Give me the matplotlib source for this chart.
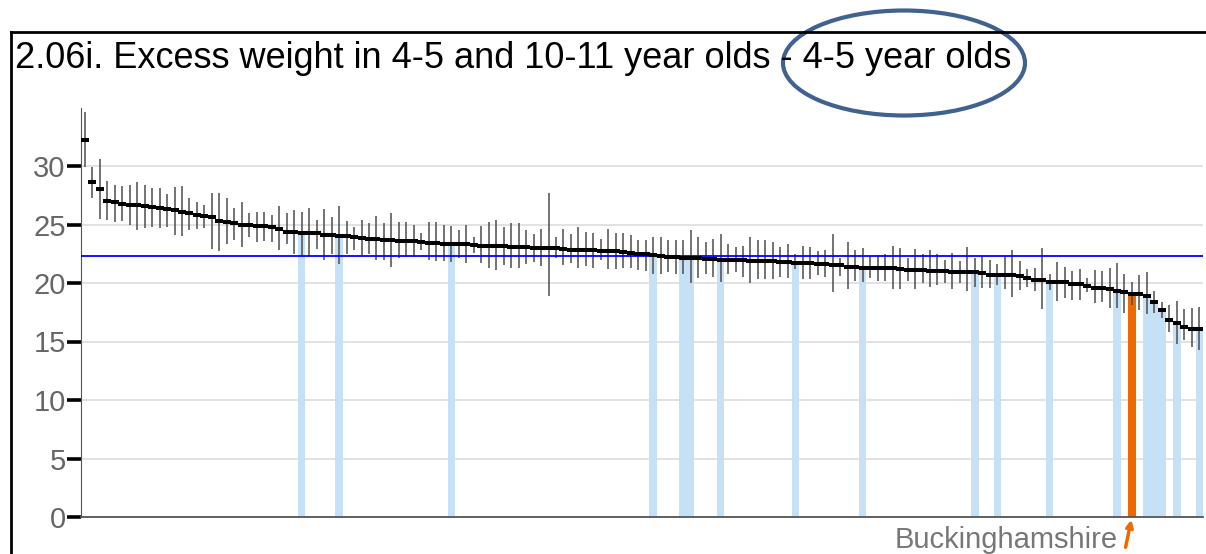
"""
2.06i Excess weight in 4-5 year olds, upper tier local authorities ranked
"""
import numpy as np
import matplotlib.pyplot as plt
from matplotlib.patches import Ellipse
from matplotlib.lines import Line2D

plt.rcParams['font.family'] = ['Liberation Sans', 'DejaVu Sans']

# values (%), highest to lowest
values = [32.2, 28.6, 28.0, 27.0, 26.9, 26.75, 26.7, 26.7, 26.6, 26.5,
          26.4, 26.3, 26.2, 26.1, 26.0, 25.8, 25.7, 25.6, 25.3, 25.2,
          25.1, 25.0, 25.0, 24.9, 24.85, 24.75, 24.6, 24.4, 24.35, 24.3,
          24.3, 24.25, 24.1, 24.1, 24.05, 24.0, 23.9, 23.85, 23.8, 23.75,
          23.7, 23.65, 23.6, 23.6, 23.55, 23.5, 23.45, 23.45, 23.35, 23.3,
          23.3, 23.3, 23.25, 23.2, 23.2, 23.15, 23.15, 23.1, 23.1, 23.05,
          23.0, 23.0, 23.0, 22.95, 22.9, 22.85, 22.85, 22.8, 22.8, 22.75,
          22.7, 22.7, 22.65, 22.6, 22.45, 22.45, 22.4, 22.35, 22.25, 22.2,
          22.15, 22.1, 22.1, 22.05, 22.05, 22.0, 22.0, 21.95, 21.95, 21.9,
          21.85, 21.85, 21.85, 21.8, 21.8, 21.75, 21.7, 21.7, 21.65, 21.6,
          21.55, 21.5, 21.4, 21.4, 21.3, 21.3, 21.3, 21.25, 21.25, 21.2,
          21.15, 21.1, 21.1, 21.05, 21.0, 21.0, 20.95, 20.95, 20.9, 20.9,
          20.85, 20.7, 20.7, 20.7, 20.65, 20.6, 20.4, 20.25, 20.25, 20.1,
          20.05, 20.05, 19.9, 19.9, 19.75, 19.6, 19.6, 19.5, 19.35, 19.2,
          19.1, 19.1, 18.9, 18.35, 17.7, 16.8, 16.6, 16.25, 16.1, 16.1]

# 95% confidence limits
lower = [29.9, 27.3, 25.5, 25.4, 25.2, 25.3, 25.0, 24.5, 24.7, 24.8,
         24.7, 24.8, 24.1, 24.0, 24.5, 24.6, 24.7, 22.9, 22.7, 23.3,
         23.7, 23.1, 23.9, 23.5, 23.6, 23.5, 22.8, 23.3, 22.5, 22.3,
         22.3, 22.9, 22.0, 22.5, 21.6, 22.5, 22.8, 22.4, 22.5, 22.0,
         22.0, 21.4, 22.1, 22.2, 22.2, 22.8, 22.0, 21.9, 21.9, 21.8,
         22.1, 21.7, 22.6, 21.7, 21.3, 21.1, 21.5, 21.3, 21.25, 21.6,
         21.8, 21.45, 18.9, 22.1, 21.5, 21.7, 21.25, 21.45, 21.3, 21.96,
         21.2, 21.2, 21.25, 21.25, 21.1, 21.05, 20.8, 20.8, 20.96, 20.8,
         20.8, 20.0, 20.4, 20.8, 20.5, 20.1, 20.8, 20.9, 20.5, 20.0,
         20.3, 20.3, 20.3, 20.5, 20.4, 21.2, 20.3, 20.3, 20.7, 20.5,
         19.2, 20.6, 19.5, 20.2, 20.1, 20.4, 20.2, 20.2, 19.5, 19.5,
         20.2, 19.5, 19.97, 19.7, 19.8, 20.0, 19.5, 20.0, 19.3, 19.7,
         19.6, 19.6, 19.8, 19.5, 18.8, 19.4, 19.65, 19.3, 17.75, 19.4,
         18.5, 18.7, 18.55, 18.55, 19.2, 18.3, 18.4, 17.9, 17.83, 17.4,
         18.1, 17.7, 17.35, 17.4, 17.0, 15.8, 14.8, 15.1, 14.56, 14.3]
upper = [34.6, 29.9, 30.6, 28.7, 28.4, 28.3, 28.4, 28.6, 28.4, 28.1,
         28.1, 27.6, 28.2, 28.3, 27.3, 26.9, 26.7, 27.7, 27.7, 27.3,
         26.4, 26.9, 26.0, 26.1, 26.1, 25.8, 26.6, 26.0, 26.2, 26.1,
         26.4, 25.4, 26.3, 25.6, 26.6, 25.3, 24.8, 25.4, 25.1, 25.7,
         25.1, 26.0, 25.2, 25.2, 25.0, 24.3, 25.2, 25.2, 25.0, 24.9,
         24.55, 25.0, 23.9, 24.9, 25.25, 25.4, 24.8, 25.15, 25.1, 24.5,
         24.2, 24.6, 27.7, 23.95, 24.6, 24.2, 24.8, 24.4, 24.3, 23.8,
         24.6, 24.3, 24.3, 24.1, 23.7, 23.7, 23.96, 23.9, 23.7, 23.7,
         23.7, 24.5, 23.96, 23.5, 23.8, 24.2, 23.3, 23.1, 23.2, 23.9,
         23.7, 23.7, 23.5, 23.1, 23.3, 22.5, 23.2, 23.1, 22.7, 22.8,
         24.2, 22.1, 23.5, 22.8, 23.0, 22.3, 22.4, 22.5, 23.2, 23.0,
         22.1, 22.9, 22.5, 22.8, 22.5, 22.0, 22.6, 21.9, 23.1, 22.1,
         22.3, 22.0, 21.6, 22.2, 22.8, 21.85, 21.2, 21.25, 23.0, 20.8,
         21.8, 21.4, 21.05, 21.2, 20.4, 21.1, 21.0, 21.25, 21.7, 20.8,
         20.1, 20.7, 20.9, 19.3, 18.4, 18.1, 18.5, 17.75, 17.83, 17.97]

england = 22.3
comparators = [29, 34, 49, 76, 80, 81, 85, 95, 104, 119, 122, 129,
               138, 142, 143, 144, 146, 149]
bucks = 140
title = "2.06i. Excess weight in 4-5 and 10-11 year olds - 4-5 year olds"

W, H = 1206, 554
fig = plt.figure(figsize=(W / 100, H / 100), dpi=100)
ax = fig.add_axes([81 / W, (H - 517) / H, 1122 / W, (517 - 107.5) / H])

x = np.arange(len(values))
v = np.array(values)

# comparator and highlighted bars
ax.bar(x[comparators], v[comparators], width=1.0, color='#c6e0f5', zorder=2)
ax.bar(x[bucks], v[bucks], width=1.0, color='#ee6a00', zorder=2)

# confidence intervals + values
ax.vlines(x, lower, upper, color='#4d4d4d', lw=1.1, zorder=3)
ax.plot(x, v, ls='none', marker='_', ms=5.6, mew=2.9, color='black', zorder=4)

ax.axhline(england, color='#0000ff', lw=1.3, zorder=3)

ax.set_xlim(-0.5, len(values) - 0.5)
ax.set_ylim(0, 35)
ax.set_yticks(range(0, 31, 5))
ax.set_xticks([])
ax.yaxis.grid(True, color='#dddddd', lw=1.2)
ax.set_axisbelow(True)
for s in ['top', 'right']:
    ax.spines[s].set_visible(False)
ax.spines['left'].set_color('#555555')
ax.spines['bottom'].set_color('#555555')
ax.spines['bottom'].set_linewidth(1.3)
ax.tick_params(axis='y', length=10, width=2.6, color='black',
               labelcolor='#666666', labelsize=21, pad=1)

# title, frame and circled annotation
fig.text(15 / W, 1 - 68 / H, title, ha='left', va='baseline', fontsize=26)
fig.add_artist(Line2D([11 / W, 11 / W], [0, 1 - 32 / H], color='black', lw=2))
fig.add_artist(Line2D([11 / W, 1], [1 - 32 / H, 1 - 32 / H], color='black', lw=2))
fig.add_artist(Ellipse((904 / W, 1 - 63 / H), 242 / W, 105 / H,
                       transform=fig.transFigure, fill=False,
                       ec='#41618f', lw=3))

fig.text(1118 / W, 1 - 540 / H, 'Buckinghamshire', ha='right', va='center',
         color='#777777', fontsize=21)
ax.annotate('', xy=(bucks, 0), xycoords='data',
            xytext=(1125 / W, 1 - 550 / H), textcoords='figure fraction',
            arrowprops=dict(arrowstyle='->', color='#ee6a00', lw=2.5),
            annotation_clip=False)

plt.savefig('out.png', dpi=100)
